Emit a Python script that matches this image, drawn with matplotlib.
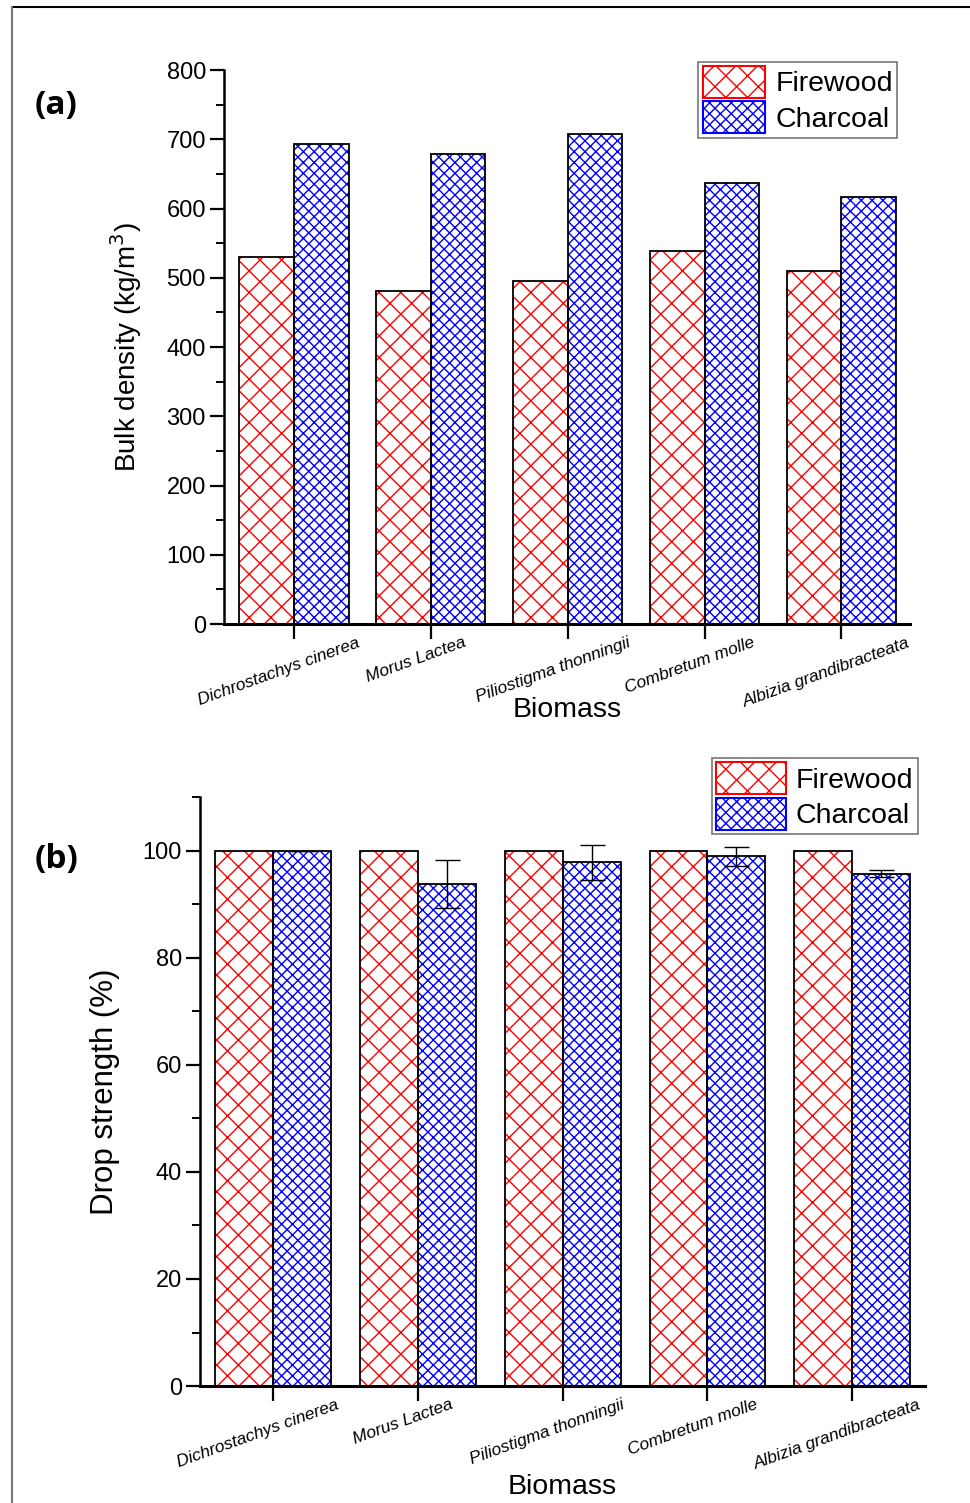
import numpy as np
import matplotlib.pyplot as plt
from matplotlib.ticker import MultipleLocator
from matplotlib.lines import Line2D
from matplotlib.transforms import ScaledTranslation

DPI = 130
W, H = 970, 1503


def pt(v):
    # sizes below are tuned for 100 dpi; rescale for the working dpi
    return v * 100 / DPI


plt.rcParams['font.family'] = ['Liberation Sans', 'DejaVu Sans']
plt.rcParams['hatch.linewidth'] = pt(1.0)

# Biomass species
species = ['Dichrostachys cinerea', 'Morus Lactea', 'Piliostigma thonningii',
           'Combretum molle', 'Albizia grandibracteata']

# Bulk density (kg/m3)
bulk_firewood = [530, 481, 495, 538, 510]
bulk_charcoal = [693, 679, 707, 637, 616]

# Drop strength (%)
drop_firewood = [100, 100, 100, 100, 100]
drop_charcoal = [100, 93.7, 97.8, 98.9, 95.7]
drop_charcoal_err = [0, 4.5, 3.2, 1.7, 0.7]

x = np.arange(len(species))
w = 0.4

fig = plt.figure(figsize=(W / DPI, H / DPI), dpi=DPI)


def hatched_bars(ax, xpos, vals, color, hatch, label):
    ax.bar(xpos, vals, w, color='white', edgecolor=color, hatch=hatch,
           linewidth=0, zorder=2)
    ax.bar(xpos, vals, w, fill=False, edgecolor='black', linewidth=pt(1.3),
           zorder=3)
    # proxy patch for the legend
    return plt.Rectangle((0, 0), 1, 1, facecolor='white', edgecolor=color,
                         hatch=hatch, linewidth=0, label=label)


def style_axis(ax, ylab, ylabsize, ylabelpad, xlabelpad):
    for s in ['top', 'right']:
        ax.spines[s].set_visible(False)
    ax.spines['left'].set_linewidth(pt(1.8))
    ax.spines['bottom'].set_linewidth(pt(2.2))
    ax.tick_params(axis='y', which='major', length=pt(10), width=pt(1.6),
                   labelsize=pt(17), direction='out', pad=pt(3))
    ax.tick_params(axis='y', which='minor', length=pt(6), width=pt(1.4),
                   direction='out')
    ax.tick_params(axis='x', which='major', length=pt(11), width=pt(1.6),
                   direction='out', pad=pt(-3))
    ax.set_xticks(x)
    ax.set_xticklabels(species, rotation=20, style='italic',
                       fontsize=pt(12.5), ha='center')
    shift = ScaledTranslation(-15 / DPI, 0, fig.dpi_scale_trans)
    for lab in ax.get_xticklabels():
        lab.set_transform(lab.get_transform() + shift)
    ax.set_xlabel('Biomass', fontsize=pt(20.5), labelpad=pt(xlabelpad))
    ax.set_ylabel(ylab, fontsize=pt(ylabsize), labelpad=pt(ylabelpad))


def legend_box(ax, handles, anchor, hlen):
    leg = ax.legend(handles=handles, loc='upper right', bbox_to_anchor=anchor,
                    fontsize=pt(20.5), frameon=True, fancybox=False,
                    handlelength=hlen, handleheight=1.35, handletextpad=0.35,
                    borderpad=0.15, labelspacing=0.12, borderaxespad=0)
    leg.get_frame().set_edgecolor('#555555')
    leg.get_frame().set_linewidth(pt(1.2))
    for p in leg.get_patches():
        p.set_linewidth(pt(1.5))
    return leg


# (a) bulk density
ax1 = fig.add_axes([0.2309, 0.5848, 0.7072, 0.3686])
h1 = hatched_bars(ax1, x - w / 2, bulk_firewood, 'red', 'xx', 'Firewood')
h2 = hatched_bars(ax1, x + w / 2, bulk_charcoal, 'blue', 'xxxx', 'Charcoal')
ax1.set_ylim(0, 800)
ax1.set_xlim(-0.51, 4.5)
ax1.yaxis.set_major_locator(MultipleLocator(100))
ax1.yaxis.set_minor_locator(MultipleLocator(50))
style_axis(ax1, 'Bulk density (kg/m$^3$)', 20, 16, -9)
legend_box(ax1, [h1, h2], (0.981, 1.015), 2.2)

# (b) drop strength
ax2 = fig.add_axes([0.2062, 0.0778, 0.7474, 0.3919])
h3 = hatched_bars(ax2, x - w / 2, drop_firewood, 'red', 'xx', 'Firewood')
h4 = hatched_bars(ax2, x + w / 2, drop_charcoal, 'blue', 'xxxx', 'Charcoal')
ax2.errorbar(x + w / 2, drop_charcoal, yerr=drop_charcoal_err, fmt='none',
             ecolor='black', elinewidth=pt(1.0), capsize=pt(9),
             capthick=pt(1.0), zorder=4)
ax2.set_ylim(0, 110)
ax2.set_xlim(-0.5, 4.5)
ax2.yaxis.set_major_locator(MultipleLocator(20))
ax2.yaxis.set_minor_locator(MultipleLocator(10))
style_axis(ax2, 'Drop strength (%)', 22.5, 16, 2)
legend_box(ax2, [h3, h4], (0.99, 1.066), 2.45)

# panel letters
fig.text(0.036, 0.930, '(a)', fontsize=pt(24), fontweight='bold',
         family=['Open Sans', 'DejaVu Sans'], va='center')
fig.text(0.036, 0.428, '(b)', fontsize=pt(24), fontweight='bold',
         family=['Open Sans', 'DejaVu Sans'], va='center')

# frame lines along top and left edge
fig.add_artist(Line2D([12 / W, 1], [1 - 7 / H, 1 - 7 / H],
                      transform=fig.transFigure, color='black', lw=pt(1.5)))
fig.add_artist(Line2D([12 / W, 12 / W], [0, 1 - 7 / H],
                      transform=fig.transFigure, color='#777777', lw=pt(1.5)))

fig.savefig('out.png', dpi=DPI)
